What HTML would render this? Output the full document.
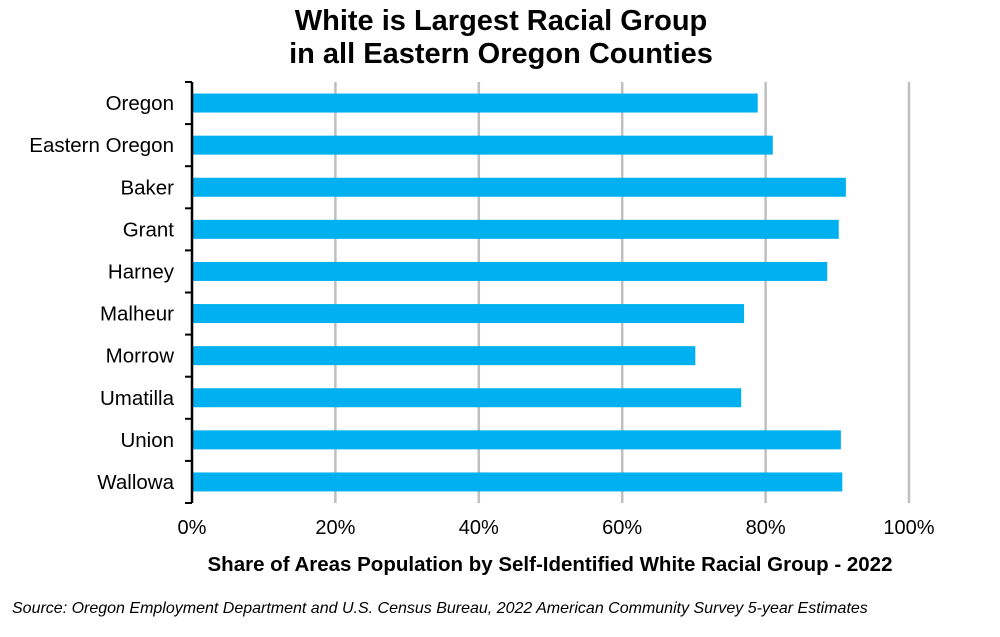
<!DOCTYPE html>
<html><head><meta charset="utf-8"><style>
body{margin:0;background:#fff;width:1000px;height:632px;overflow:hidden;font-family:"Liberation Sans",Arial,sans-serif}
</style></head><body>
<svg id="chart" width="1000" height="632" xmlns="http://www.w3.org/2000/svg" font-family="Liberation Sans, Arial, sans-serif">
<text x="501" y="30" text-anchor="middle" font-size="29" font-weight="bold">White is Largest Racial Group</text>
<text x="501" y="63" text-anchor="middle" font-size="29" font-weight="bold">in all Eastern Oregon Counties</text>
<g id="grid"></g><g id="bars"></g><g id="axes"></g>
<text x="550" y="571" text-anchor="middle" font-size="20.5" font-weight="bold">Share of Areas Population by Self-Identified White Racial Group - 2022</text>
<text x="12" y="613" font-size="16" font-style="italic">Source: Oregon Employment Department and U.S. Census Bureau, 2022 American Community Survey 5-year Estimates</text>
</svg>
<script>
const categories=["Oregon","Eastern Oregon","Baker","Grant","Harney","Malheur","Morrow","Umatilla","Union","Wallowa"];
const values=[78.9,81.0,91.2,90.2,88.6,77.0,70.2,76.6,90.5,90.7];
const xTicks=[0,20,40,60,80,100];
const NS="http://www.w3.org/2000/svg";
const x0=192,x1=909,yTop=82,yBot=503;
const xs=v=>x0+(v/100)*(x1-x0);
const band=(yBot-yTop)/categories.length;
function mk(t,a,p){const e=document.createElementNS(NS,t);for(const k in a)e.setAttribute(k,a[k]);p.appendChild(e);return e;}
const grid=document.getElementById('grid'),bars=document.getElementById('bars'),axes=document.getElementById('axes');
xTicks.forEach(t=>{
  if(t>0){const l=mk('line',{x1:xs(t),x2:xs(t),y1:yTop,y2:yBot,stroke:'#bfbfbf','stroke-width':2.5},grid);
  
  }
  const tx=mk('text',{x:xs(t),y:534,'text-anchor':'middle','font-size':20},axes);tx.textContent=t+'%';
  
  
});
categories.forEach((c,i)=>{
  const cy=yTop+band*(i+0.5);
  const r=mk('rect',{x:x0,y:cy-9.5,width:xs(values[i])-x0,height:19,fill:'#00b0f0'},bars);
  
  
  const tx=mk('text',{x:174,y:cy+7,'text-anchor':'end','font-size':20.5},axes);tx.textContent=c;
  
  
});
for(let i=0;i<=categories.length;i++){const y=yTop+band*i;mk('line',{x1:185,x2:x0,y1:y,y2:y,stroke:'#000','stroke-width':2},axes);}
const ax=mk('line',{x1:x0,x2:x0,y1:yTop,y2:yBot,stroke:'#000','stroke-width':2.5},axes);


</script>
</body></html>
